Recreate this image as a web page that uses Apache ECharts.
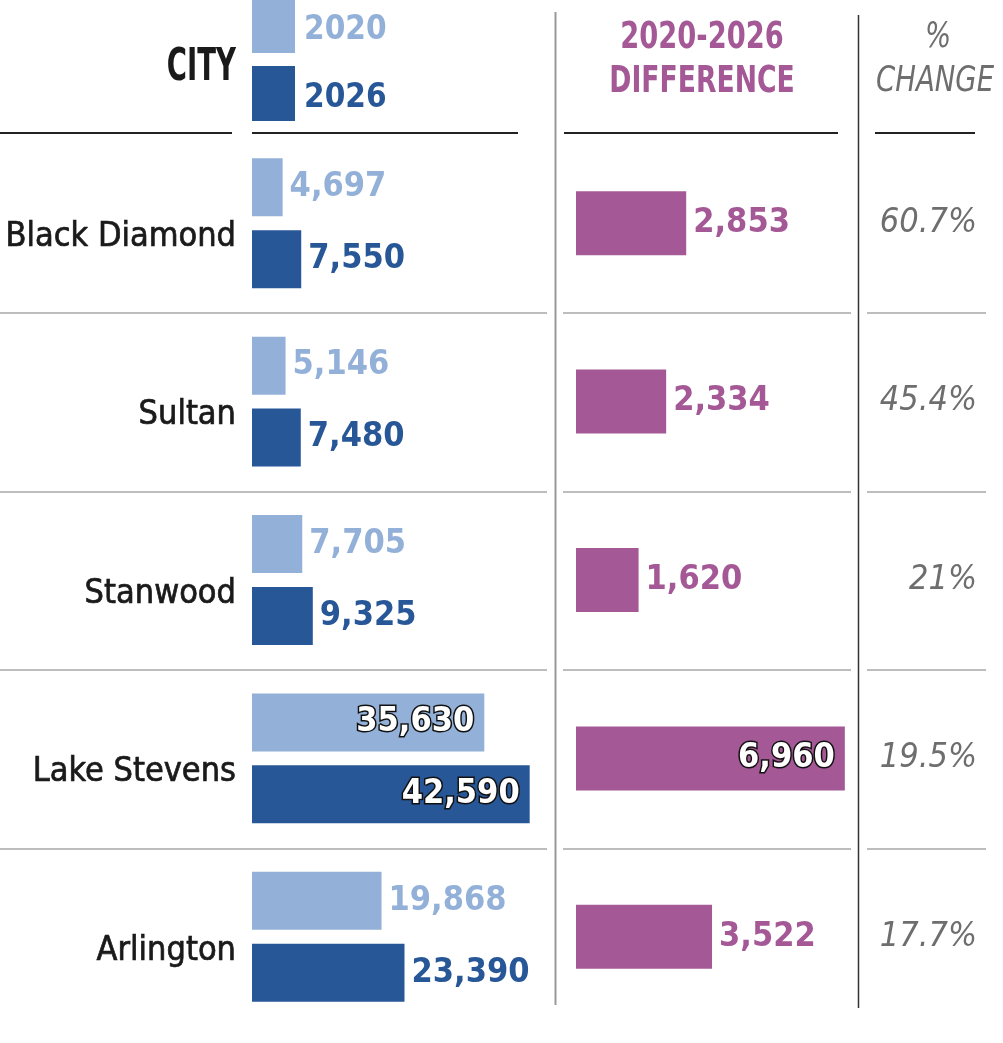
<!DOCTYPE html>
<html><head><meta charset="utf-8">
<script src="https://cdn.jsdelivr.net/npm/echarts@6/dist/echarts.min.js"></script>
<style>html,body{margin:0;padding:0;background:#fff}#c{width:1003px;height:1043px}</style>
</head><body><div id="c"></div>
<script>
const cities = ['Black Diamond', 'Sultan', 'Stanwood', 'Lake Stevens', 'Arlington'];
const pop2020 = [4697, 5146, 7705, 35630, 19868];
const pop2026 = [7550, 7480, 9325, 42590, 23390];
const diff = [2853, 2334, 1620, 6960, 3522];
const pctChange = ['60.7%', '45.4%', '21%', '19.5%', '17.7%'];
const seriesNames = ['2020', '2026'];

const FONT = '"DejaVu Sans Condensed", "DejaVu Sans", sans-serif';
const C2020 = '#93b0d8', C2026 = '#275797', CDIFF = '#a45896', CPCT = '#6e6e6e';
const TOP = 134, HEIGHT = 892, N = cities.length, ROW = HEIGHT / N;
const fmt = v => v.toLocaleString('en-US');

function inLabel() {
  return { position: 'insideRight', distance: 10, color: '#fff', textBorderColor: '#111', textBorderWidth: 3 };
}
function mk(arr, threshold) {
  return arr.map(v => v > threshold ? { value: v, label: inLabel() } : v);
}
const valLabel = (color) => ({
  show: true, position: 'right', distance: 7, color: color, fontFamily: FONT,
  fontWeight: 'bold', fontSize: 34, formatter: p => fmt(p.value)
});

const graphics = [];
function hline(x1, x2, y, color, w) {
  graphics.push({ type: 'line', shape: { x1, y1: y, x2, y2: y }, style: { stroke: color, lineWidth: w }, silent: true });
}
function vline(x, y1, y2, color, w) {
  graphics.push({ type: 'line', shape: { x1: x, y1, x2: x, y2 }, style: { stroke: color, lineWidth: w }, silent: true });
}
function text(t, x, y, opts) {
  graphics.push({ type: 'text', x, y, scaleX: opts.sx || 1, silent: true,
    style: { text: t, x: 0, y: 0, font: opts.font, fill: opts.fill, textAlign: opts.align || 'left', textVerticalAlign: 'middle' } });
}
// header rules
[[0, 232], [252, 518], [564, 838], [875, 975]].forEach(s => hline(s[0], s[1], 133, '#222', 2));
// row separators
for (let i = 1; i < N; i++) {
  const y = Math.round(TOP + i * ROW) + 1;
  [[0, 547], [563, 851], [867, 986]].forEach(s => hline(s[0], s[1], y, '#bdbdbd', 2));
}
vline(555.5, 12, 1005, '#999', 2);
vline(858.5, 15, 1008, '#333', 1.5);
text('CITY', 236, 68, { font: 'bold 45px ' + FONT, fill: '#1a1a1a', align: 'right', sx: 0.68 });
text('2020-2026', 702, 38, { font: 'bold 37px ' + FONT, fill: CDIFF, align: 'center', sx: 0.82 });
text('DIFFERENCE', 702, 82, { font: 'bold 37px ' + FONT, fill: CDIFF, align: 'center', sx: 0.8 });
text('%', 938, 38, { font: 'italic 36px ' + FONT, fill: CPCT, align: 'center', sx: 0.85 });
text('CHANGE', 876, 82, { font: 'italic 36px ' + FONT, fill: CPCT, align: 'left', sx: 0.85 });

const catAxis = (gi, extra) => Object.assign({
  type: 'category', gridIndex: gi, data: cities, inverse: true,
  axisLine: { show: false }, axisTick: { show: false }, splitLine: { show: false }
}, extra);

const option = {
  animation: false,
  legend: {
    left: 252, top: -2, padding: 0, orient: 'vertical', icon: 'rect', itemWidth: 43, itemHeight: 55, itemGap: 13,
    selectedMode: false,
    formatter: name => '{t|' + name + '}',
    textStyle: { fontFamily: FONT, fontWeight: 'bold', fontSize: 33,
      rich: { t: { fontFamily: FONT, fontWeight: 'bold', fontSize: 33, padding: [10, 0, 0, 4] } } },
    data: [
      { name: seriesNames[0], textStyle: { color: C2020 } },
      { name: seriesNames[1], textStyle: { color: C2026 } }
    ]
  },
  grid: [
    { left: 252, top: TOP, width: 326, height: HEIGHT },
    { left: 576, top: TOP, width: 309, height: HEIGHT },
    { left: 860, top: TOP, width: 117, height: HEIGHT }
  ],
  xAxis: [
    { type: 'value', gridIndex: 0, min: 0, max: 50000, show: false },
    { type: 'value', gridIndex: 1, min: 0, max: 8000, show: false },
    { type: 'value', gridIndex: 2, min: 0, max: 1, show: false }
  ],
  yAxis: [
    catAxis(0, { axisLabel: { show: true, margin: 16, color: '#1a1a1a', fontFamily: FONT, fontSize: 34, align: 'right',
      verticalAlign: 'top', lineHeight: 28, textBorderColor: '#1a1a1a', textBorderWidth: 0.7 } }),
    catAxis(1, { axisLabel: { show: false } }),
    catAxis(2, { position: 'right', axisLabel: { show: true, inside: true, margin: 0, color: CPCT, fontFamily: FONT, fontStyle: 'italic', fontSize: 34, formatter: (v, i) => pctChange[i] } })
  ],
  series: [
    { name: seriesNames[0], type: 'bar', xAxisIndex: 0, yAxisIndex: 0, data: mk(pop2020, 30000), barWidth: 58, barGap: '24%',
      itemStyle: { color: C2020 }, label: valLabel(C2020) },
    { name: seriesNames[1], type: 'bar', xAxisIndex: 0, yAxisIndex: 0, data: mk(pop2026, 30000), barWidth: 58, barGap: '24%',
      itemStyle: { color: C2026 }, label: valLabel(C2026) },
    { name: 'Difference', type: 'bar', xAxisIndex: 1, yAxisIndex: 1, data: mk(diff, 5000), barWidth: 64,
      itemStyle: { color: CDIFF }, label: valLabel(CDIFF) }
  ],
  graphic: graphics
};
const chart = echarts.init(document.getElementById('c'));
chart.setOption(option);
</script></body></html>
